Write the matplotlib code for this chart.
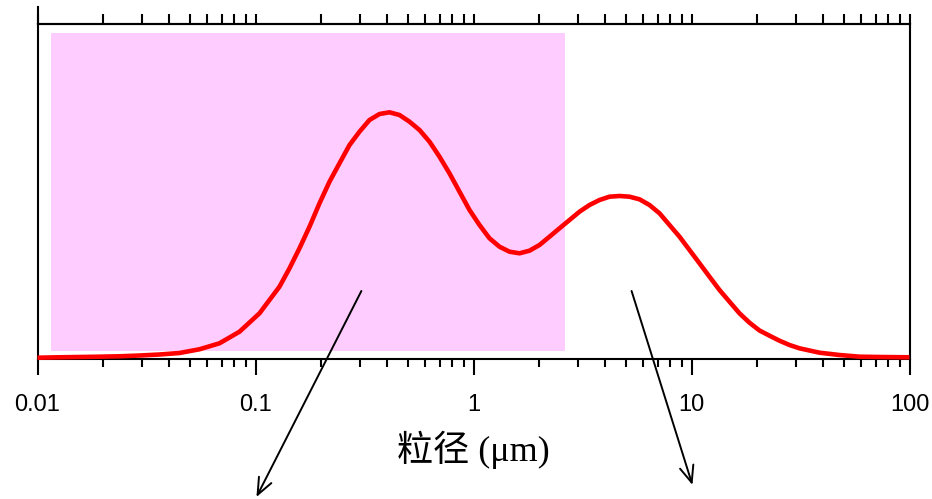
import matplotlib
matplotlib.use("Agg")
import matplotlib.pyplot as plt
from matplotlib.patches import Rectangle
from matplotlib.lines import Line2D
from matplotlib.ticker import LogLocator, NullFormatter, FixedLocator, FixedFormatter

# ---- data ----
size_um = [0.0100, 0.01262, 0.01559, 0.01925, 0.02378, 0.02937, 0.03627, 0.04481,
           0.0553, 0.06837, 0.08446, 0.1043, 0.1288, 0.1432, 0.1591, 0.1769, 0.1966,
           0.2185, 0.2428, 0.2700, 0.2999, 0.3333, 0.3705, 0.4117, 0.4576, 0.5086,
           0.5653, 0.6283, 0.6982, 0.7757, 0.8626, 0.9587, 1.0654, 1.184, 1.316,
           1.463, 1.626, 1.806, 2.008, 2.232, 2.480, 2.757, 3.064, 3.405, 3.784,
           4.206, 4.674, 5.195, 5.773, 6.416, 7.133, 7.927, 8.810, 9.790, 10.88,
           12.09, 13.44, 14.94, 16.60, 18.45, 20.51, 22.79, 25.33, 28.15, 31.29,
           38.66, 47.75, 58.97, 72.86, 100.0]
frequency = [0.39, 0.51, 0.60, 0.69, 0.81, 1.04, 1.34, 1.79,
             2.90, 4.69, 8.15, 13.64, 21.58, 27.07, 33.04, 39.49, 46.48,
             52.93, 58.42, 63.88, 67.85, 71.34, 73.13, 73.64, 72.84, 70.84,
             68.36, 64.87, 60.39, 55.43, 49.94, 44.48, 40.00, 36.03, 33.52,
             32.03, 31.55, 32.33, 34.03, 36.51, 39.01, 41.49, 43.97, 45.97, 47.46,
             48.45, 48.66, 48.45, 47.67, 45.97, 43.49, 40.00, 36.51, 32.54, 28.57,
             24.57, 20.60, 17.10, 13.64, 10.84, 8.51, 6.96, 5.46, 4.18, 3.19,
             1.88, 1.19, 0.69, 0.60, 0.51]

shade_x = [0.0115, 2.64]
shade_y = [2.4, 97.3]

tick_values = [0.01, 0.1, 1, 10, 100]
tick_labels = ["0.01", "0.1", "1", "10", "100"]

# arrows: (start x, start y) -> (tip x, tip y) in data coordinates
arrow_starts = [(0.306, 20.3), (5.31, 20.3)]
arrow_tips = [(0.101, -41.2), (10.1, -37.6)]

xlabel_text = "粒径 (μm)"

# ---- figure ----
fig = plt.figure(figsize=(9.32, 4.99), dpi=100)
ax = fig.add_axes([37.5 / 932, 1 - 359 / 499, 872 / 932, 335 / 499])

ax.add_patch(Rectangle((shade_x[0], shade_y[0]), shade_x[1] - shade_x[0],
                       shade_y[1] - shade_y[0], facecolor="#FFCCFF",
                       edgecolor="none", zorder=1))
ax.plot(size_um, frequency, color="#FF0000", lw=3.3, zorder=3,
        solid_capstyle="butt", solid_joinstyle="round", clip_on=False)

ax.set_xscale("log")
ax.set_xlim(0.01, 100)
ax.set_ylim(0, 100)

for s in ax.spines.values():
    s.set_linewidth(1.5)
    s.set_color("black")

ax.yaxis.set_visible(False)
ax.xaxis.set_major_locator(FixedLocator(tick_values))
ax.xaxis.set_major_formatter(FixedFormatter(tick_labels))
ax.xaxis.set_minor_locator(LogLocator(base=10, subs=range(2, 10)))
ax.xaxis.set_minor_formatter(NullFormatter())
ax.tick_params(axis="x", which="major", direction="out", length=11.5, width=1.5,
               pad=14, labelsize=17, colors="black")
ax.tick_params(axis="x", which="minor", direction="out", length=5.8, width=1.5)
for t in ax.get_xticklabels():
    t.set_fontfamily(["Liberation Sans", "DejaVu Sans"])

sec = ax.secondary_xaxis("top")
sec.xaxis.set_major_locator(FixedLocator(tick_values))
sec.xaxis.set_minor_locator(LogLocator(base=10, subs=range(2, 10)))
sec.xaxis.set_major_formatter(NullFormatter())
sec.xaxis.set_minor_formatter(NullFormatter())
sec.tick_params(axis="x", which="both", direction="out", length=7.2, width=1.5)
sec.spines["top"].set_linewidth(1.5)

# left spine extension above the frame
ax.add_line(Line2D([0, 0], [1, 1 + 17 / 335], transform=ax.transAxes,
                   color="black", lw=1.5, clip_on=False))

ax.set_xlabel(xlabel_text, fontsize=26, family=["Liberation Serif", "Noto Sans CJK SC"],
              fontweight="medium", labelpad=10)

for (sx, sy), (tx, ty) in zip(arrow_starts, arrow_tips):
    ax.annotate("", xy=(tx, ty), xytext=(sx, sy), xycoords="data", textcoords="data",
                annotation_clip=False,
                arrowprops=dict(arrowstyle="->,head_length=0.6,head_width=0.25",
                                mutation_scale=20, color="black", lw=1.4,
                                shrinkA=0, shrinkB=0))

fig.savefig("out.png", dpi=100)
